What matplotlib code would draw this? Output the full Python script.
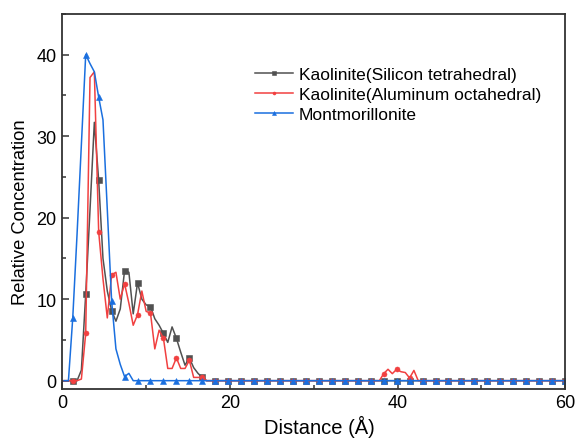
import numpy as np
import matplotlib
matplotlib.use("Agg")
import matplotlib.pyplot as plt
from matplotlib.ticker import MultipleLocator

plt.rcParams['font.family'] = ['Liberation Sans', 'DejaVu Sans']

# distance bins (Å), 117 evenly spaced points
distance = np.linspace(0.24, 59.98, 117)

# concentration profiles, first 34 bins; the rest are zero unless noted
si_tet_head = [0, 0, 0, 0, 1.3, 10.6, 21, 31.7, 24.6, 15,
               11, 8.6, 7.3, 8.8, 13.5, 13.3, 8.2, 12.0, 10, 9.3,
               9.1, 7.6, 6.8, 5.8, 4.7, 6.6, 5.2, 3.5, 1.9, 2.8,
               1.6, 0.9, 0.4, 0]
al_oct_head = [0, 0, 0, 0, 0.2, 5.8, 37.2, 37.9, 18.3, 12.5,
               7.7, 13.0, 13.3, 10, 11.9, 9.5, 6.8, 8.1, 11, 8.5,
               8.3, 3.9, 6.2, 5.2, 1.5, 1.5, 2.8, 1.5, 1.5, 2.5,
               0.4, 0.4, 0.4, 0]
al_oct_bump = [0.86, 1.4, 0.86, 1.4, 1.1, 1.0, 0.33, 1.26]   # bins 74-81
montmo_head = [0, 0, 7.7, 18, 29, 40, 38.9, 37.9, 34.8, 32,
               21, 9.8, 3.9, 2.0, 0.5, 0.9, 0]

n = len(distance)
si_tet = np.zeros(n)
si_tet[:len(si_tet_head)] = si_tet_head
al_oct = np.zeros(n)
al_oct[:len(al_oct_head)] = al_oct_head
al_oct[74:74 + len(al_oct_bump)] = al_oct_bump
montmo = np.zeros(n)
montmo[:len(montmo_head)] = montmo_head

labels = ['Kaolinite(Silicon tetrahedral)', 'Kaolinite(Aluminum octahedral)', 'Montmorillonite']
colors = ['#515151', '#F14040', '#1A6FDF']
markers = ['s', 'o', '^']
msizes = [4.2, 3.6, 4.8]

fig = plt.figure(figsize=(5.75, 4.39), dpi=100)
ax = fig.add_axes([0.108, 0.112, 0.875, 0.854])

for y, lab, c, m, ms in zip([si_tet, al_oct, montmo], labels, colors, markers, msizes):
    ax.plot(distance, y, color=c, lw=1.1, marker=m, ms=ms, markevery=(2, 3),
            markeredgewidth=0.4, label=lab)

ax.set_xlim(0, 60)
ax.set_ylim(-1, 45)
ax.xaxis.set_major_locator(MultipleLocator(20))
ax.xaxis.set_minor_locator(MultipleLocator(10))
ax.yaxis.set_major_locator(MultipleLocator(10))
ax.yaxis.set_minor_locator(MultipleLocator(5))
ax.tick_params(which='both', direction='in', top=False, right=False, labelsize=13,
               width=1.1, color='#333333')
ax.tick_params(which='major', length=5, pad=4)
ax.tick_params(which='minor', length=3)
for sp in ax.spines.values():
    sp.set_linewidth(1.3)
    sp.set_color('#333333')

ax.set_xlabel('Distance (Å)', fontsize=14.5)
ax.set_ylabel('Relative Concentration', fontsize=13.2)
ax.xaxis.set_label_coords(0.512, -0.07)
ax.yaxis.set_label_coords(-0.066, 0.475)

leg = ax.legend(loc='upper left', bbox_to_anchor=(0.37, 0.878), frameon=False,
                fontsize=12.5, handlelength=2.2, handletextpad=0.3, labelspacing=0.28,
                markerscale=0.6, borderaxespad=0)

fig.savefig('out.png', dpi=100)
